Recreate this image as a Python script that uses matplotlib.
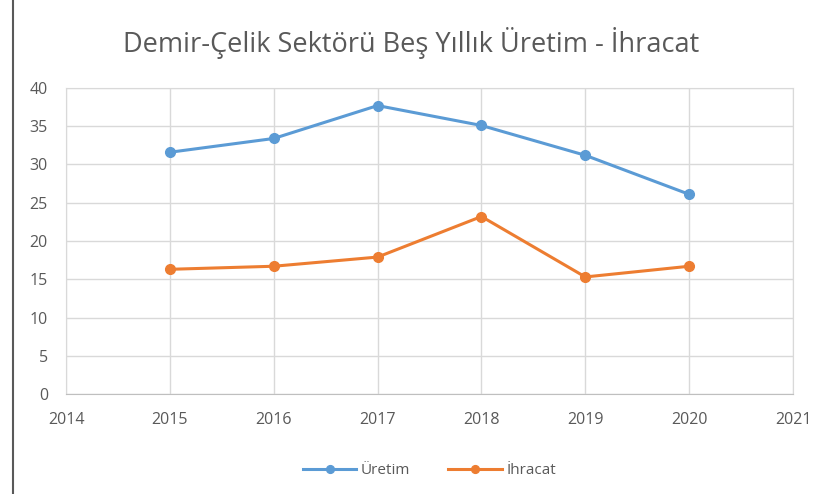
import matplotlib.pyplot as plt
from matplotlib.patches import Rectangle

years = [2015, 2016, 2017, 2018, 2019, 2020]
uretim = [31.6, 33.4, 37.7, 35.1, 31.2, 26.1]
ihracat = [16.3, 16.7, 17.9, 23.2, 15.3, 16.7]
x_ticks = list(range(2014, 2022))
y_ticks = list(range(0, 45, 5))

plt.rcParams['font.family'] = ['Open Sans', 'DejaVu Sans']
text_color = '#595959'

fig = plt.figure(figsize=(8.23, 4.94), dpi=100)
ax = fig.add_axes([0.0802, 0.2024, 0.8834, 0.6195])

ax.plot(years, uretim, color='#5B9BD5', lw=2.2, marker='o', ms=7, label='Üretim')
ax.plot(years, ihracat, color='#ED7D31', lw=2.2, marker='o', ms=7, label='İhracat')

ax.set_xlim(2014, 2021)
ax.set_ylim(0, 40)
ax.set_xticks(x_ticks)
ax.set_yticks(y_ticks)
ax.grid(True, color='#D9D9D9', lw=1)
ax.set_axisbelow(True)
for side in ['top', 'right', 'left']:
    ax.spines[side].set_color('#D9D9D9')
ax.spines['bottom'].set_color('#BFBFBF')
ax.tick_params(length=0, colors=text_color, labelsize=11.5)
ax.tick_params(axis='x', pad=13)
ax.tick_params(axis='y', pad=13)

fig.suptitle('Demir-Çelik Sektörü Beş Yıllık Üretim - İhracat', y=0.945,
             fontsize=19.5, color=text_color)
ax.legend(loc='upper center', bbox_to_anchor=(0.5, -0.18), ncol=2, frameon=False,
          fontsize=11, labelcolor=text_color, handlelength=3.5, columnspacing=2.5,
          handletextpad=0.3, markerscale=0.8)

fig.patches.append(Rectangle((0.016, -0.01), 1.0, 1.02, transform=fig.transFigure,
                             fill=False, edgecolor='#595959', lw=1.5))

fig.savefig('out.png', dpi=100)
